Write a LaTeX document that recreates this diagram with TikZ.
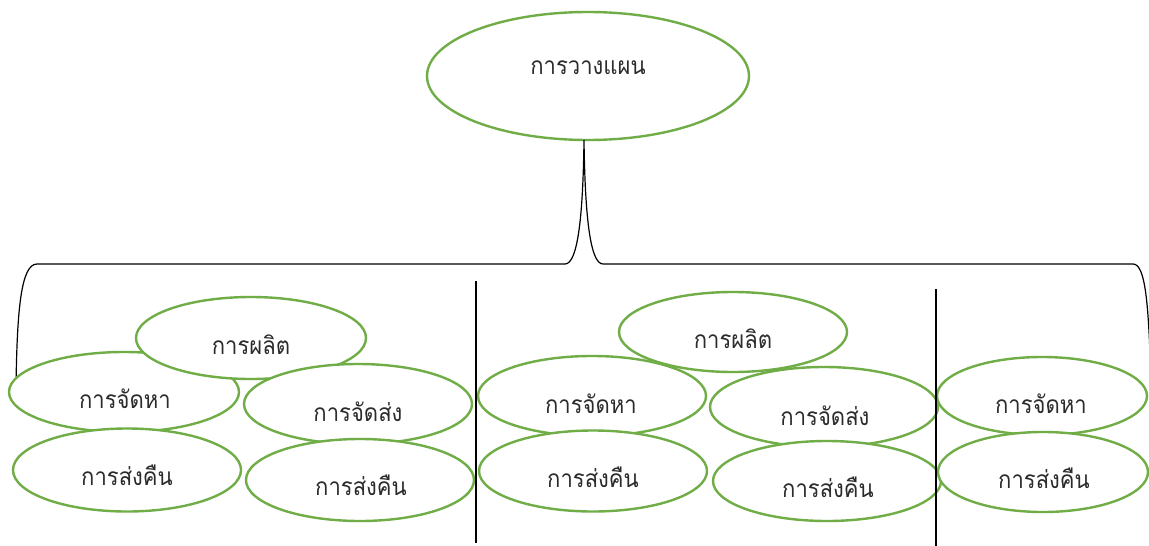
\documentclass[tikz,border=0pt]{standalone}
\usepackage{fontspec}
\usetikzlibrary{shapes.geometric}
\newfontfamily\thaifont[Script=Thai,FakeStretch=0.9]{Loma}
\definecolor{leaf}{HTML}{70AD47}
\definecolor{ink}{HTML}{2B2B2B}
\begin{document}
\begin{tikzpicture}[x=1pt,y=-1pt,
  oval/.style={ellipse,draw=leaf,line width=2.4pt,fill=white,inner sep=0pt,
               minimum width=228pt,minimum height=80pt},
  word/.style={anchor=base,text=ink,inner sep=0pt,font=\thaifont\fontsize{24.5}{28}\selectfont},
  brace/.style={draw=black,line width=1.2pt},
  divider/.style={draw=black,line width=1.3pt}]
\useasboundingbox[fill=white] (0,0) rectangle (1149,546);

% top planning oval
\node[oval,minimum width=322pt,minimum height=128pt] (plan) at (588,76) {};
\node[word] (tplan) at (588,74) {การวางแผน};

% the brace below it
\coordinate (bl) at (16,388);
\coordinate (bl2) at (37,264);
\coordinate (ml) at (565,264);
\coordinate (tip) at (584,140);
\coordinate (mr) at (603,264);
\coordinate (br2) at (1133,264);
\coordinate (br) at (1151,390);
\draw[brace] (bl) .. controls (17,310) and (21,264) .. (bl2) -- (ml)
  .. controls (578,264) and (583,215) .. (tip)
  .. controls (585,215) and (590,264) .. (mr) -- (br2)
  .. controls (1145,264) and (1149,300) .. (br);

% left group
\node[oval,minimum width=230pt] (ls) at (124,392) {};
\node[oval,minimum width=230pt,minimum height=82pt] (lp) at (251,338) {};
\node[oval] (ld) at (358,404) {};
\node[oval,minimum height=83pt] (lr1) at (127,470) {};
\node[oval,minimum height=82pt] (lr2) at (360,480) {};
\node[word] (tls) at (125,408) {การจัดหา};
\node[word] (tlp) at (251,354) {การผลิต};
\node[word] (tld) at (358,421) {การจัดส่ง};
\node[word] (tlr1) at (127,485) {การส่งคืน};
\node[word] (tlr2) at (361,495) {การส่งคืน};

% middle group
\node[oval] (ms) at (592,396) {};
\node[oval] (mp) at (733,332) {};
\node[oval] (md) at (824,407) {};
\node[oval,minimum height=81pt] (mr1) at (593,471) {};
\node[oval] (mr2) at (827,481) {};
\node[word] (tms) at (591,413) {การจัดหา};
\node[word] (tmp) at (733,348) {การผลิต};
\node[word] (tmd) at (825,425) {การจัดส่ง};
\node[word] (tmr1) at (593,487) {การส่งคืน};
\node[word] (tmr2) at (828,497) {การส่งคืน};

% right group
\node[oval,minimum width=210pt,minimum height=78pt] (rs) at (1042,396) {};
\node[oval,minimum width=210pt,minimum height=80pt] (rr) at (1043,472) {};
\node[word] (trs) at (1041,413) {การจัดหา};
\node[word] (trr) at (1044,488) {การส่งคืน};

% dividers between the groups
\coordinate (d1a) at (476,281);
\coordinate (d1b) at (476,543);
\coordinate (d2a) at (936,289);
\coordinate (d2b) at (936,546);
\draw[divider] (d1a) -- (d1b);
\draw[divider] (d2a) -- (d2b);
\end{tikzpicture}
\end{document}
